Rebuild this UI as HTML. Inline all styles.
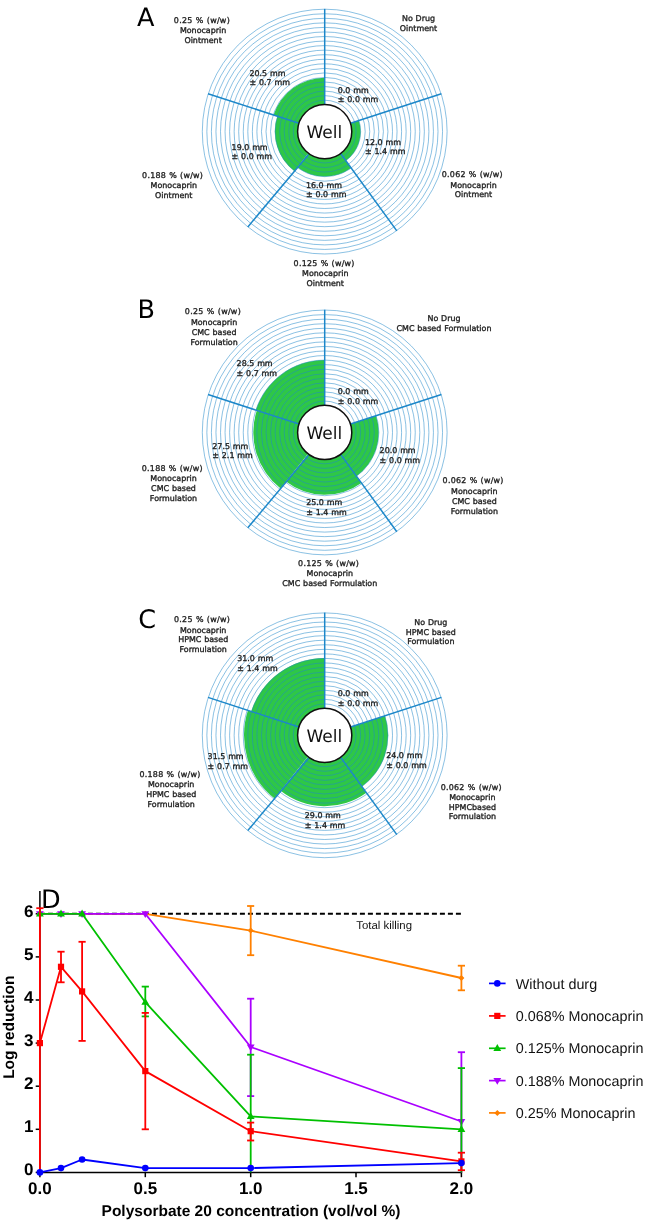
<!DOCTYPE html>
<html><head><meta charset="utf-8"><title>Figure</title>
<style>html,body{margin:0;padding:0;background:#fff}svg{display:block}</style></head>
<body>
<svg width="645" height="1223" viewBox="0 0 645 1223" font-family="'DejaVu Sans', sans-serif" text-rendering="geometricPrecision">
<rect width="645" height="1223" fill="#fff"/>
<g>
<path d="M324.70,131.60 L358.84,120.51 A35.90,35.90 0 0 1 345.80,160.64 Z" fill="#2ec747"/>
<path d="M324.70,131.60 L351.15,168.01 A45.00,45.00 0 0 1 297.59,167.52 Z" fill="#2ec747"/>
<path d="M324.70,131.60 L294.50,171.20 A49.80,49.80 0 0 1 277.34,116.21 Z" fill="#2ec747"/>
<path d="M324.70,131.60 L273.53,114.97 A53.80,53.80 0 0 1 324.70,77.80 Z" fill="#2ec747"/>
<g fill="none" stroke="#1f88c9" stroke-width="0.52">
<circle cx="324.7" cy="131.6" r="122.40"/>
<circle cx="324.7" cy="131.6" r="117.85"/>
<circle cx="324.7" cy="131.6" r="113.30"/>
<circle cx="324.7" cy="131.6" r="108.75"/>
<circle cx="324.7" cy="131.6" r="104.20"/>
<circle cx="324.7" cy="131.6" r="99.65"/>
<circle cx="324.7" cy="131.6" r="95.10"/>
<circle cx="324.7" cy="131.6" r="90.55"/>
<circle cx="324.7" cy="131.6" r="86.00"/>
<circle cx="324.7" cy="131.6" r="81.45"/>
<circle cx="324.7" cy="131.6" r="76.90"/>
<circle cx="324.7" cy="131.6" r="72.35"/>
<circle cx="324.7" cy="131.6" r="67.80"/>
<circle cx="324.7" cy="131.6" r="63.25"/>
<circle cx="324.7" cy="131.6" r="58.70"/>
<circle cx="324.7" cy="131.6" r="54.15"/>
<circle cx="324.7" cy="131.6" r="49.60"/>
<circle cx="324.7" cy="131.6" r="45.05"/>
<circle cx="324.7" cy="131.6" r="40.50"/>
<circle cx="324.7" cy="131.6" r="35.95"/>
<circle cx="324.7" cy="131.6" r="31.40"/>
</g>
<g stroke="#1c87c9" stroke-width="1.5" fill="none">
<line x1="324.70" y1="104.50" x2="324.70" y2="8.90"/>
<line x1="350.47" y1="123.23" x2="441.39" y2="93.68"/>
<line x1="340.63" y1="153.52" x2="396.82" y2="230.87"/>
<line x1="308.50" y1="154.50" x2="247.80" y2="226.90"/>
<line x1="298.93" y1="123.23" x2="208.01" y2="93.68"/>
</g>
<circle cx="324.7" cy="131.6" r="27.1" fill="#fff" stroke="#111" stroke-width="1.5"/>
<text x="324.4" y="137.8" font-size="17" text-anchor="middle" fill="#111">Well</text>
</g>
<g>
<path d="M324.70,432.45 L376.06,415.76 A54.00,54.00 0 0 1 356.44,476.14 Z" fill="#2ec747"/>
<path d="M324.70,432.45 L361.38,482.93 A62.40,62.40 0 0 1 286.40,481.71 Z" fill="#2ec747"/>
<path d="M324.70,432.45 L280.61,488.61 A71.40,71.40 0 0 1 256.79,410.39 Z" fill="#2ec747"/>
<path d="M324.70,432.45 L255.84,410.08 A72.40,72.40 0 0 1 324.70,360.05 Z" fill="#2ec747"/>
<g fill="none" stroke="#1f88c9" stroke-width="0.52">
<circle cx="324.7" cy="432.45" r="122.40"/>
<circle cx="324.7" cy="432.45" r="117.85"/>
<circle cx="324.7" cy="432.45" r="113.30"/>
<circle cx="324.7" cy="432.45" r="108.75"/>
<circle cx="324.7" cy="432.45" r="104.20"/>
<circle cx="324.7" cy="432.45" r="99.65"/>
<circle cx="324.7" cy="432.45" r="95.10"/>
<circle cx="324.7" cy="432.45" r="90.55"/>
<circle cx="324.7" cy="432.45" r="86.00"/>
<circle cx="324.7" cy="432.45" r="81.45"/>
<circle cx="324.7" cy="432.45" r="76.90"/>
<circle cx="324.7" cy="432.45" r="72.35"/>
<circle cx="324.7" cy="432.45" r="67.80"/>
<circle cx="324.7" cy="432.45" r="63.25"/>
<circle cx="324.7" cy="432.45" r="58.70"/>
<circle cx="324.7" cy="432.45" r="54.15"/>
<circle cx="324.7" cy="432.45" r="49.60"/>
<circle cx="324.7" cy="432.45" r="45.05"/>
<circle cx="324.7" cy="432.45" r="40.50"/>
<circle cx="324.7" cy="432.45" r="35.95"/>
<circle cx="324.7" cy="432.45" r="31.40"/>
</g>
<g stroke="#1c87c9" stroke-width="1.5" fill="none">
<line x1="324.70" y1="405.35" x2="324.70" y2="309.75"/>
<line x1="350.47" y1="424.08" x2="441.39" y2="394.53"/>
<line x1="340.63" y1="454.37" x2="396.82" y2="531.72"/>
<line x1="308.50" y1="455.35" x2="247.80" y2="527.75"/>
<line x1="298.93" y1="424.08" x2="208.01" y2="394.53"/>
</g>
<circle cx="324.7" cy="432.45" r="27.1" fill="#fff" stroke="#111" stroke-width="1.5"/>
<text x="324.4" y="438.6" font-size="17" text-anchor="middle" fill="#111">Well</text>
</g>
<g>
<path d="M324.70,735.30 L385.00,715.71 A63.40,63.40 0 0 1 361.97,786.59 Z" fill="#2ec747"/>
<path d="M324.70,735.30 L366.37,792.66 A70.90,70.90 0 0 1 280.93,791.08 Z" fill="#2ec747"/>
<path d="M324.70,735.30 L274.63,798.59 A80.70,80.70 0 0 1 247.95,710.36 Z" fill="#2ec747"/>
<path d="M324.70,735.30 L251.18,711.41 A77.30,77.30 0 0 1 324.70,658.00 Z" fill="#2ec747"/>
<g fill="none" stroke="#1f88c9" stroke-width="0.52">
<circle cx="324.7" cy="735.3" r="122.40"/>
<circle cx="324.7" cy="735.3" r="117.85"/>
<circle cx="324.7" cy="735.3" r="113.30"/>
<circle cx="324.7" cy="735.3" r="108.75"/>
<circle cx="324.7" cy="735.3" r="104.20"/>
<circle cx="324.7" cy="735.3" r="99.65"/>
<circle cx="324.7" cy="735.3" r="95.10"/>
<circle cx="324.7" cy="735.3" r="90.55"/>
<circle cx="324.7" cy="735.3" r="86.00"/>
<circle cx="324.7" cy="735.3" r="81.45"/>
<circle cx="324.7" cy="735.3" r="76.90"/>
<circle cx="324.7" cy="735.3" r="72.35"/>
<circle cx="324.7" cy="735.3" r="67.80"/>
<circle cx="324.7" cy="735.3" r="63.25"/>
<circle cx="324.7" cy="735.3" r="58.70"/>
<circle cx="324.7" cy="735.3" r="54.15"/>
<circle cx="324.7" cy="735.3" r="49.60"/>
<circle cx="324.7" cy="735.3" r="45.05"/>
<circle cx="324.7" cy="735.3" r="40.50"/>
<circle cx="324.7" cy="735.3" r="35.95"/>
<circle cx="324.7" cy="735.3" r="31.40"/>
</g>
<g stroke="#1c87c9" stroke-width="1.5" fill="none">
<line x1="324.70" y1="708.20" x2="324.70" y2="612.60"/>
<line x1="350.47" y1="726.93" x2="441.39" y2="697.38"/>
<line x1="340.63" y1="757.22" x2="396.82" y2="834.57"/>
<line x1="308.50" y1="758.20" x2="247.80" y2="830.60"/>
<line x1="298.93" y1="726.93" x2="208.01" y2="697.38"/>
</g>
<circle cx="324.7" cy="735.3" r="27.1" fill="#fff" stroke="#111" stroke-width="1.5"/>
<text x="324.4" y="741.5" font-size="17" text-anchor="middle" fill="#111">Well</text>
</g>
<g font-size="25.5" fill="#000">
<text x="137" y="26">A</text>
<text x="137.5" y="318.3">B</text>
<text x="138.3" y="628.3">C</text>
</g>
<g font-size="7.95" fill="#222" stroke="#222" stroke-width="0.33" word-spacing="0.35">
<text x="201.8" y="23.1" text-anchor="middle" textLength="55.9" lengthAdjust="spacing">0.25 % (w/w)</text>
<text x="203.1" y="33.3" text-anchor="middle">Monocaprin</text>
<text x="203.1" y="42.9" text-anchor="middle">Ointment</text>
<text x="418.5" y="21.1" text-anchor="middle">No Drug</text>
<text x="418.5" y="31" text-anchor="middle">Ointment</text>
<text x="472.2" y="177.4" text-anchor="middle" textLength="60.8" lengthAdjust="spacing">0.062 % (w/w)</text>
<text x="473.5" y="187.5" text-anchor="middle">Monocaprin</text>
<text x="473.5" y="197.3" text-anchor="middle">Ointment</text>
<text x="324.0" y="266.1" text-anchor="middle" textLength="60.8" lengthAdjust="spacing">0.125 % (w/w)</text>
<text x="325.3" y="276.1" text-anchor="middle">Monocaprin</text>
<text x="325.3" y="285.9" text-anchor="middle">Ointment</text>
<text x="172.5" y="177.8" text-anchor="middle" textLength="60.8" lengthAdjust="spacing">0.188 % (w/w)</text>
<text x="173.8" y="187.7" text-anchor="middle">Monocaprin</text>
<text x="173.8" y="197.6" text-anchor="middle">Ointment</text>
<text x="249.4" y="75.7" text-anchor="start">20.5 mm</text>
<text x="249.4" y="85.1" text-anchor="start">± 0.7 mm</text>
<text x="337.8" y="92.8" text-anchor="start">0.0 mm</text>
<text x="337.8" y="102.2" text-anchor="start">± 0.0 mm</text>
<text x="365.0" y="144.6" text-anchor="start">12.0 mm</text>
<text x="365.0" y="154" text-anchor="start">± 1.4 mm</text>
<text x="306.0" y="188" text-anchor="start">16.0 mm</text>
<text x="306.0" y="197.4" text-anchor="start">± 0.0 mm</text>
<text x="231.6" y="149.8" text-anchor="start">19.0 mm</text>
<text x="231.6" y="159.2" text-anchor="start">± 0.0 mm</text>
<text x="212.8" y="314.4" text-anchor="middle" textLength="55.9" lengthAdjust="spacing">0.25 % (w/w)</text>
<text x="214.1" y="324.5" text-anchor="middle">Monocaprin</text>
<text x="214.1" y="334.5" text-anchor="middle">CMC based</text>
<text x="214.1" y="344.5" text-anchor="middle">Formulation</text>
<text x="444.0" y="321.3" text-anchor="middle">No Drug</text>
<text x="444.0" y="330.9" text-anchor="middle">CMC based Formulation</text>
<text x="473.0" y="483.3" text-anchor="middle" textLength="60.8" lengthAdjust="spacing">0.062 % (w/w)</text>
<text x="474.3" y="493.5" text-anchor="middle">Monocaprin</text>
<text x="474.3" y="503.5" text-anchor="middle">CMC based</text>
<text x="474.3" y="513.5" text-anchor="middle">Formulation</text>
<text x="328.5" y="565.8" text-anchor="middle" textLength="60.8" lengthAdjust="spacing">0.125 % (w/w)</text>
<text x="329.8" y="575.9" text-anchor="middle">Monocaprin</text>
<text x="329.8" y="586" text-anchor="middle">CMC based Formulation</text>
<text x="172.2" y="470.8" text-anchor="middle" textLength="60.8" lengthAdjust="spacing">0.188 % (w/w)</text>
<text x="173.5" y="480.8" text-anchor="middle">Monocaprin</text>
<text x="173.5" y="490.7" text-anchor="middle">CMC based</text>
<text x="173.5" y="500.6" text-anchor="middle">Formulation</text>
<text x="236.6" y="365.8" text-anchor="start">28.5 mm</text>
<text x="236.6" y="375.8" text-anchor="start">± 0.7 mm</text>
<text x="337.8" y="393.9" text-anchor="start">0.0 mm</text>
<text x="337.8" y="403.5" text-anchor="start">± 0.0 mm</text>
<text x="379.6" y="453" text-anchor="start">20.0 mm</text>
<text x="379.6" y="462.8" text-anchor="start">± 0.0 mm</text>
<text x="306.2" y="505" text-anchor="start">25.0 mm</text>
<text x="306.2" y="515.2" text-anchor="start">± 1.4 mm</text>
<text x="212.3" y="448.5" text-anchor="start">27.5 mm</text>
<text x="212.3" y="458.4" text-anchor="start">± 2.1 mm</text>
<text x="201.9" y="622.4" text-anchor="middle" textLength="55.9" lengthAdjust="spacing">0.25 % (w/w)</text>
<text x="203.2" y="632.5" text-anchor="middle">Monocaprin</text>
<text x="203.2" y="642.4" text-anchor="middle">HPMC based</text>
<text x="203.2" y="652" text-anchor="middle">Formulation</text>
<text x="430.8" y="624.8" text-anchor="middle">No Drug</text>
<text x="430.8" y="634.7" text-anchor="middle">HPMC based</text>
<text x="430.8" y="644.4" text-anchor="middle">Formulation</text>
<text x="471.1" y="790.2" text-anchor="middle" textLength="60.8" lengthAdjust="spacing">0.062 % (w/w)</text>
<text x="472.4" y="799.9" text-anchor="middle">Monocaprin</text>
<text x="472.4" y="809.7" text-anchor="middle">HPMCbased</text>
<text x="472.4" y="819.4" text-anchor="middle">Formulation</text>
<text x="169.9" y="777.4" text-anchor="middle" textLength="60.8" lengthAdjust="spacing">0.188 % (w/w)</text>
<text x="171.2" y="787.2" text-anchor="middle">Monocaprin</text>
<text x="171.2" y="797" text-anchor="middle">HPMC based</text>
<text x="171.2" y="806.8" text-anchor="middle">Formulation</text>
<text x="237.2" y="661.1" text-anchor="start">31.0 mm</text>
<text x="237.2" y="670.8" text-anchor="start">± 1.4 mm</text>
<text x="337.8" y="696.2" text-anchor="start">0.0 mm</text>
<text x="337.8" y="706.1" text-anchor="start">± 0.0 mm</text>
<text x="386.2" y="758.4" text-anchor="start">24.0 mm</text>
<text x="386.2" y="768.3" text-anchor="start">± 0.0 mm</text>
<text x="304.8" y="818" text-anchor="start">29.0 mm</text>
<text x="304.8" y="827.9" text-anchor="start">± 1.4 mm</text>
<text x="207.6" y="758.8" text-anchor="start">31.5 mm</text>
<text x="207.6" y="768.7" text-anchor="start">± 0.7 mm</text>
</g>
<g font-family="'Liberation Sans', sans-serif">
<line x1="39.9" y1="913.8" x2="461.4" y2="913.8" stroke="#000" stroke-width="1.9" stroke-dasharray="5 3"/>
<text x="356.3" y="929.2" font-size="11.4" fill="#111">Total killing</text>
<line x1="39.9" y1="891" x2="39.9" y2="1173.15" stroke="#000" stroke-width="1.5"/>
<line x1="39.15" y1="1172.4" x2="462.15" y2="1172.4" stroke="#000" stroke-width="1.5"/>
<line x1="35.699999999999996" y1="1172.4" x2="39.9" y2="1172.4" stroke="#000" stroke-width="1.5"/>
<text x="33.4" y="1175.4" font-size="17" font-weight="bold" text-anchor="end">0</text>
<line x1="35.699999999999996" y1="1129.3" x2="39.9" y2="1129.3" stroke="#000" stroke-width="1.5"/>
<text x="33.4" y="1132.3" font-size="17" font-weight="bold" text-anchor="end">1</text>
<line x1="35.699999999999996" y1="1086.2" x2="39.9" y2="1086.2" stroke="#000" stroke-width="1.5"/>
<text x="33.4" y="1089.2" font-size="17" font-weight="bold" text-anchor="end">2</text>
<line x1="35.699999999999996" y1="1043.1" x2="39.9" y2="1043.1" stroke="#000" stroke-width="1.5"/>
<text x="33.4" y="1046.1" font-size="17" font-weight="bold" text-anchor="end">3</text>
<line x1="35.699999999999996" y1="1000.0" x2="39.9" y2="1000.0" stroke="#000" stroke-width="1.5"/>
<text x="33.4" y="1003.0" font-size="17" font-weight="bold" text-anchor="end">4</text>
<line x1="35.699999999999996" y1="956.9" x2="39.9" y2="956.9" stroke="#000" stroke-width="1.5"/>
<text x="33.4" y="959.9" font-size="17" font-weight="bold" text-anchor="end">5</text>
<line x1="35.699999999999996" y1="913.8" x2="39.9" y2="913.8" stroke="#000" stroke-width="1.5"/>
<text x="33.4" y="916.8" font-size="17" font-weight="bold" text-anchor="end">6</text>
<line x1="39.9" y1="1172.4" x2="39.9" y2="1177.2" stroke="#000" stroke-width="1.5"/>
<text x="39.9" y="1194.4" font-size="17" font-weight="bold" text-anchor="middle">0.0</text>
<line x1="145.3" y1="1172.4" x2="145.3" y2="1177.2" stroke="#000" stroke-width="1.5"/>
<text x="145.3" y="1194.4" font-size="17" font-weight="bold" text-anchor="middle">0.5</text>
<line x1="250.7" y1="1172.4" x2="250.7" y2="1177.2" stroke="#000" stroke-width="1.5"/>
<text x="250.7" y="1194.4" font-size="17" font-weight="bold" text-anchor="middle">1.0</text>
<line x1="356.0" y1="1172.4" x2="356.0" y2="1177.2" stroke="#000" stroke-width="1.5"/>
<text x="356.0" y="1194.4" font-size="17" font-weight="bold" text-anchor="middle">1.5</text>
<line x1="461.4" y1="1172.4" x2="461.4" y2="1177.2" stroke="#000" stroke-width="1.5"/>
<text x="461.4" y="1194.4" font-size="17" font-weight="bold" text-anchor="middle">2.0</text>
<text x="251" y="1215.6" font-size="15.5" font-weight="bold" text-anchor="middle">Polysorbate 20 concentration (vol/vol %)</text>
<text transform="translate(14.2,1027.2) rotate(-90)" font-size="15.5" font-weight="bold" text-anchor="middle">Log reduction</text>
<text x="41.1" y="907.5" font-size="25.5" font-family="'DejaVu Sans', sans-serif">D</text>
<g stroke="#ff8000" stroke-width="1.8" fill="none">
<line x1="250.7" y1="955.2" x2="250.7" y2="906.0"/>
<line x1="247.1" y1="906.0" x2="254.2" y2="906.0"/>
<line x1="247.1" y1="955.2" x2="254.2" y2="955.2"/>
<line x1="461.4" y1="990.3" x2="461.4" y2="965.7"/>
<line x1="457.8" y1="965.7" x2="465.0" y2="965.7"/>
<line x1="457.8" y1="990.3" x2="465.0" y2="990.3"/>
<polyline points="39.9,913.8 61.0,913.8 82.1,913.8 145.3,913.8 250.7,930.6 461.4,978.0" stroke-linejoin="round"/>
</g>
<path d="M39.9,910.8 L42.9,913.8 L39.9,916.8 L36.9,913.8 Z" fill="#ff8000"/>
<path d="M61.0,910.8 L64.0,913.8 L61.0,916.8 L58.0,913.8 Z" fill="#ff8000"/>
<path d="M82.1,910.8 L85.1,913.8 L82.1,916.8 L79.1,913.8 Z" fill="#ff8000"/>
<path d="M145.3,910.8 L148.3,913.8 L145.3,916.8 L142.3,913.8 Z" fill="#ff8000"/>
<path d="M250.7,927.6 L253.7,930.6 L250.7,933.6 L247.7,930.6 Z" fill="#ff8000"/>
<path d="M461.4,975.0 L464.4,978.0 L461.4,981.0 L458.4,978.0 Z" fill="#ff8000"/>
<g stroke="#aa00ff" stroke-width="1.8" fill="none">
<line x1="250.7" y1="1096.1" x2="250.7" y2="998.7"/>
<line x1="247.1" y1="998.7" x2="254.2" y2="998.7"/>
<line x1="247.1" y1="1096.1" x2="254.2" y2="1096.1"/>
<line x1="461.4" y1="1172.4" x2="461.4" y2="1052.2"/>
<line x1="457.8" y1="1052.2" x2="465.0" y2="1052.2"/>
<polyline points="39.9,913.8 61.0,913.8 82.1,913.8 145.3,913.8 250.7,1047.0 461.4,1121.5" stroke-linejoin="round"/>
</g>
<path d="M39.9,918.0 L43.8,911.2 L36.0,911.2 Z" fill="#aa00ff"/>
<path d="M61.0,918.0 L64.9,911.2 L57.1,911.2 Z" fill="#aa00ff"/>
<path d="M82.1,918.0 L86.0,911.2 L78.2,911.2 Z" fill="#aa00ff"/>
<path d="M145.3,918.0 L149.2,911.2 L141.4,911.2 Z" fill="#aa00ff"/>
<path d="M250.7,1051.2 L254.6,1044.4 L246.8,1044.4 Z" fill="#aa00ff"/>
<path d="M461.4,1125.7 L465.3,1118.9 L457.5,1118.9 Z" fill="#aa00ff"/>
<g stroke="#00c000" stroke-width="1.8" fill="none">
<line x1="145.3" y1="1016.4" x2="145.3" y2="986.6"/>
<line x1="141.7" y1="986.6" x2="148.9" y2="986.6"/>
<line x1="141.7" y1="1016.4" x2="148.9" y2="1016.4"/>
<line x1="250.7" y1="1172.4" x2="250.7" y2="1054.7"/>
<line x1="247.1" y1="1054.7" x2="254.2" y2="1054.7"/>
<line x1="461.4" y1="1172.4" x2="461.4" y2="1068.1"/>
<line x1="457.8" y1="1068.1" x2="465.0" y2="1068.1"/>
<polyline points="39.9,913.8 61.0,913.8 82.1,913.8 145.3,1002.2 250.7,1116.4 461.4,1129.3" stroke-linejoin="round"/>
</g>
<path d="M39.9,909.6 L43.8,916.4 L36.0,916.4 Z" fill="#00c000"/>
<path d="M61.0,909.6 L64.9,916.4 L57.1,916.4 Z" fill="#00c000"/>
<path d="M82.1,909.6 L86.0,916.4 L78.2,916.4 Z" fill="#00c000"/>
<path d="M145.3,998.0 L149.2,1004.8 L141.4,1004.8 Z" fill="#00c000"/>
<path d="M250.7,1112.2 L254.6,1119.0 L246.8,1119.0 Z" fill="#00c000"/>
<path d="M461.4,1125.1 L465.3,1131.9 L457.5,1131.9 Z" fill="#00c000"/>
<g stroke="#ff0000" stroke-width="1.8" fill="none">
<line x1="39.9" y1="1172.4" x2="39.9" y2="908.2"/>
<line x1="36.3" y1="908.2" x2="43.5" y2="908.2"/>
<line x1="61.0" y1="982.3" x2="61.0" y2="951.7"/>
<line x1="57.4" y1="951.7" x2="64.6" y2="951.7"/>
<line x1="57.4" y1="982.3" x2="64.6" y2="982.3"/>
<line x1="82.1" y1="1040.9" x2="82.1" y2="941.8"/>
<line x1="78.5" y1="941.8" x2="85.7" y2="941.8"/>
<line x1="78.5" y1="1040.9" x2="85.7" y2="1040.9"/>
<line x1="145.3" y1="1129.3" x2="145.3" y2="1012.9"/>
<line x1="141.7" y1="1012.9" x2="148.9" y2="1012.9"/>
<line x1="141.7" y1="1129.3" x2="148.9" y2="1129.3"/>
<line x1="250.7" y1="1140.5" x2="250.7" y2="1122.6"/>
<line x1="247.1" y1="1122.6" x2="254.2" y2="1122.6"/>
<line x1="247.1" y1="1140.5" x2="254.2" y2="1140.5"/>
<line x1="461.4" y1="1170.2" x2="461.4" y2="1152.7"/>
<line x1="457.8" y1="1152.7" x2="465.0" y2="1152.7"/>
<line x1="457.8" y1="1170.2" x2="465.0" y2="1170.2"/>
<polyline points="39.9,1043.1 61.0,966.8 82.1,991.4 145.3,1071.1 250.7,1131.2 461.4,1161.4" stroke-linejoin="round"/>
</g>
<rect x="36.8" y="1040.0" width="6.2" height="6.2" fill="#ff0000"/>
<rect x="57.9" y="963.7" width="6.2" height="6.2" fill="#ff0000"/>
<rect x="79.0" y="988.3" width="6.2" height="6.2" fill="#ff0000"/>
<rect x="142.2" y="1068.0" width="6.2" height="6.2" fill="#ff0000"/>
<rect x="247.6" y="1128.1" width="6.2" height="6.2" fill="#ff0000"/>
<rect x="458.3" y="1158.3" width="6.2" height="6.2" fill="#ff0000"/>
<g stroke="#0000ff" stroke-width="1.8" fill="none">
<polyline points="39.9,1172.4 61.0,1168.1 82.1,1159.5 145.3,1168.1 250.7,1168.1 461.4,1163.1" stroke-linejoin="round"/>
</g>
<circle cx="39.9" cy="1172.4" r="3.3" fill="#0000ff"/>
<circle cx="61.0" cy="1168.1" r="3.3" fill="#0000ff"/>
<circle cx="82.1" cy="1159.5" r="3.3" fill="#0000ff"/>
<circle cx="145.3" cy="1168.1" r="3.3" fill="#0000ff"/>
<circle cx="250.7" cy="1168.1" r="3.3" fill="#0000ff"/>
<circle cx="461.4" cy="1163.1" r="3.3" fill="#0000ff"/>
<line x1="489" y1="983.4" x2="505.6" y2="983.4" stroke="#0000ff" stroke-width="1.7"/>
<circle cx="497.3" cy="983.4" r="3.3" fill="#0000ff"/>
<text x="515.8" y="988.5" font-size="14.35" fill="#111">Without durg</text>
<line x1="489" y1="1015.9" x2="505.6" y2="1015.9" stroke="#ff0000" stroke-width="1.7"/>
<rect x="494.2" y="1012.8" width="6.2" height="6.2" fill="#ff0000"/>
<text x="515.8" y="1021.0" font-size="14.35" fill="#111">0.068% Monocaprin</text>
<line x1="489" y1="1048.3" x2="505.6" y2="1048.3" stroke="#00c000" stroke-width="1.7"/>
<path d="M497.3,1044.1 L501.2,1050.9 L493.4,1050.9 Z" fill="#00c000"/>
<text x="515.8" y="1053.4" font-size="14.35" fill="#111">0.125% Monocaprin</text>
<line x1="489" y1="1080.6" x2="505.6" y2="1080.6" stroke="#aa00ff" stroke-width="1.7"/>
<path d="M497.3,1084.8 L501.2,1078.0 L493.4,1078.0 Z" fill="#aa00ff"/>
<text x="515.8" y="1085.7" font-size="14.35" fill="#111">0.188% Monocaprin</text>
<line x1="489" y1="1112.9" x2="505.6" y2="1112.9" stroke="#ff8000" stroke-width="1.7"/>
<path d="M497.3,1109.9 L500.3,1112.9 L497.3,1115.9 L494.3,1112.9 Z" fill="#ff8000"/>
<text x="515.8" y="1118.0" font-size="14.35" fill="#111">0.25% Monocaprin</text>
</g>
</svg>
</body></html>
